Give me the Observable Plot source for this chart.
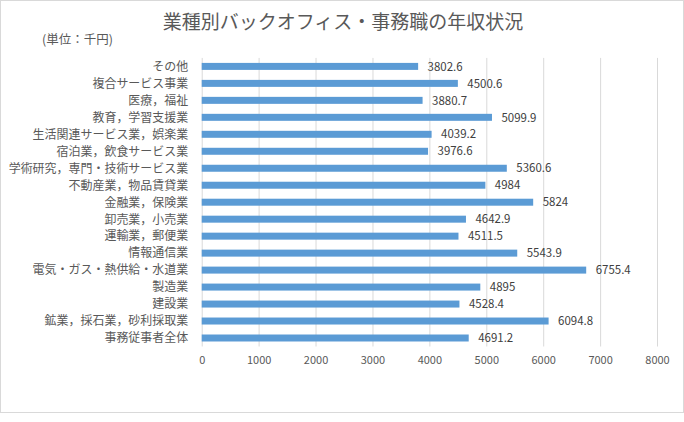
<!DOCTYPE html>
<html>
<head>
<meta charset="utf-8">
<script src="https://cdn.jsdelivr.net/npm/d3@7"></script>
<script src="https://cdn.jsdelivr.net/npm/@observablehq/plot@0.6"></script>
<style>
  html, body { margin: 0; padding: 0; background: #fff; }
  #wrap { position: relative; width: 684px; height: 413px; box-sizing: border-box; border: 1px solid #d9d9d9; font-family: "Noto Sans CJK JP", "Noto Sans", sans-serif; }
  #chart { position: absolute; left: -1px; top: -1px; }
  #title { position: absolute; left: 0; width: 684px; top: 10px; text-align: center; font-size: 19px; color: #595959; line-height: 1; white-space: nowrap; }
  #unit { position: absolute; left: 41px; top: 32px; font-size: 12.5px; color: #595959; line-height: 1; white-space: nowrap; }
</style>
</head>
<body>
<div id="wrap">
  <div id="chart"></div>
  <div id="title">業種別バックオフィス・事務職の年収状況</div>
  <div id="unit">(単位：千円)</div>
</div>
<script>
const categories = [
  "その他",
  "複合サービス事業",
  "医療，福祉",
  "教育，学習支援業",
  "生活関連サービス業，娯楽業",
  "宿泊業，飲食サービス業",
  "学術研究，専門・技術サービス業",
  "不動産業，物品賃貸業",
  "金融業，保険業",
  "卸売業，小売業",
  "運輸業，郵便業",
  "情報通信業",
  "電気・ガス・熱供給・水道業",
  "製造業",
  "建設業",
  "鉱業，採石業，砂利採取業",
  "事務従事者全体"
];
const values = [3802.6, 4500.6, 3880.7, 5099.9, 4039.2, 3976.6, 5360.6, 4984, 5824, 4642.9, 4511.5, 5543.9, 6755.4, 4895, 4528.4, 6094.8, 4691.2];
const xTicks = [0, 1000, 2000, 3000, 4000, 5000, 6000, 7000, 8000];

const data = categories.map((c, i) => ({ category: c, value: values[i] }));

const chart = Plot.plot({
  width: 684,
  height: 422,
  marginLeft: 202,
  marginRight: 26,
  marginTop: 58,
  marginBottom: 75,
  style: { fontFamily: '"Noto Sans CJK JP", "Noto Sans", sans-serif', background: "transparent", overflow: "visible" },
  x: { domain: [0, 8000], ticks: xTicks },
  y: { domain: categories, paddingInner: 0.6, paddingOuter: 0.3 },
  marks: [
    Plot.gridX(xTicks, { stroke: "#d9d9d9", strokeOpacity: 1, strokeWidth: 1 }),
    Plot.barX(data, { x: "value", y: "category", fill: "#5b9bd5" }),
    Plot.text(data, { x: "value", y: "category", text: d => String(d.value), textAnchor: "start", dx: 9, fill: "#404040", fontSize: 11.5 }),
    Plot.axisX(xTicks, { tickSize: 0, tickPadding: 9, fontSize: 11, color: "#595959", label: null, tickFormat: d => String(d) }),
    Plot.axisY({ tickSize: 0, tickPadding: 14, fontSize: 12, color: "#595959", label: null })
  ]
});
document.getElementById("chart").appendChild(chart);
</script>
</body>
</html>
